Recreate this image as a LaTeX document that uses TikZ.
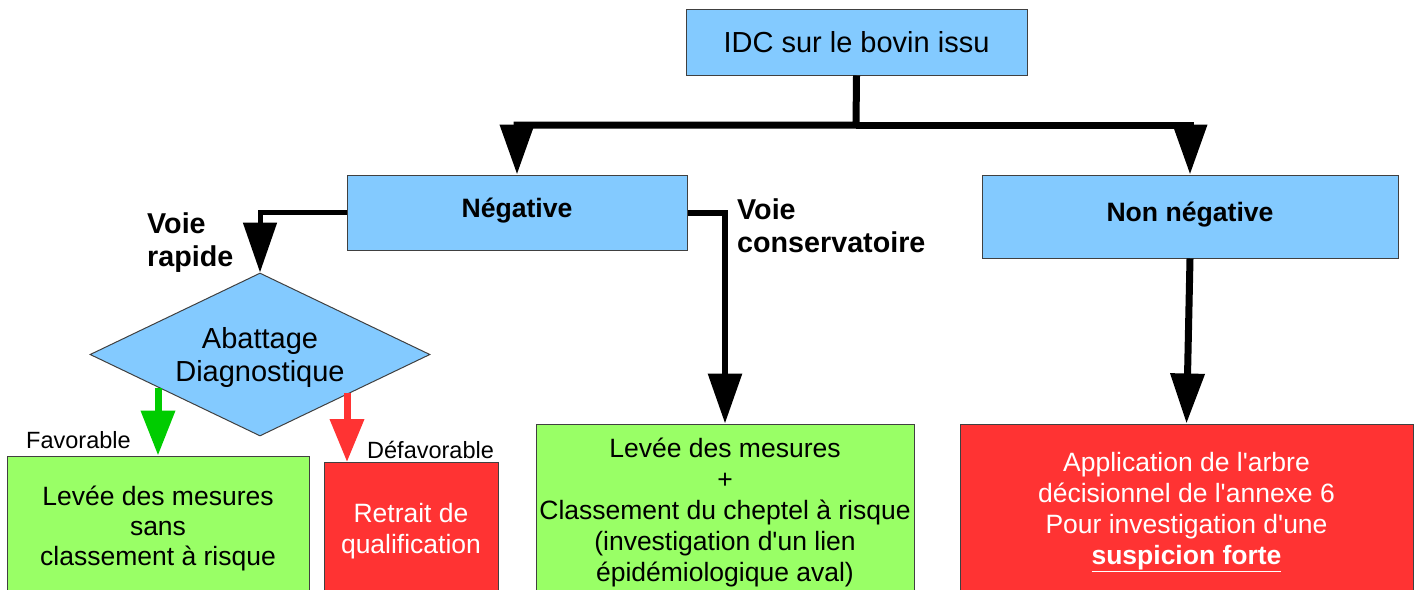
\documentclass[tikz,border=0pt]{standalone}
\usepackage{fontspec}
\setmainfont{Liberation Sans}[Ligatures=TeXOff]
\usetikzlibrary{shapes.geometric,arrows.meta}
\definecolor{sky}{HTML}{83CAFF}
\definecolor{lgreen}{HTML}{99FF66}
\definecolor{lred}{HTML}{FF3333}
\definecolor{dgreen}{HTML}{00CC00}
\begin{document}
\begin{tikzpicture}[x=1pt,y=-1pt,
  box/.style={draw=black!75,line width=1pt,inner sep=0pt,align=center},
  maintext/.style={font=\fontsize{26.5}{31}\selectfont},
  bigtext/.style={font=\fontsize{29}{33}\selectfont},
  boldbox/.style={font=\fontsize{26.6}{31}\selectfont\bfseries},
  smalllab/.style={font=\fontsize{23.5}{27}\selectfont,inner sep=0pt},
  boldlab/.style={font=\fontsize{28.7}{33}\selectfont\bfseries,inner sep=0pt,align=left},
  conn/.style={line width=#1,-{Triangle[width=33pt,length=50pt]}},
  conn/.default=7pt]
\useasboundingbox (0,0) rectangle (1415,589);
\clip (0,0) rectangle (1415,589);

% boxes
\node[box,fill=sky,bigtext,minimum width=341pt,minimum height=66pt] (idc) at (856.5,42) {IDC sur le bovin issu};
\node[box,fill=sky,boldbox,minimum width=340pt,minimum height=75pt] (neg) at (517,212.5) {Négative\rule[-9.6pt]{0pt}{0pt}};
\node[box,fill=sky,boldbox,minimum width=416pt,minimum height=83pt] (nonneg) at (1190,216.5) {Non négative\rule[-9.6pt]{0pt}{0pt}};
\node[box,diamond,fill=sky,bigtext,minimum width=340pt,minimum height=163pt,aspect=2.09] (dia) at (260,354.5) {\rule{0pt}{27pt}Abattage\\Diagnostique};
\node[box,fill=lgreen,maintext,font=\fontsize{26.5}{30}\selectfont,minimum width=302pt,minimum height=144pt] (lg) at (158,528) {Levée des mesures\\sans\\classement à risque};
\node[box,fill=lred,maintext,text=white,minimum width=174pt,minimum height=138pt] (sr) at (411,531) {Retrait de\\qualification};
\node[box,fill=lgreen,maintext,minimum width=378pt,minimum height=176pt] (mg) at (725,512) {Levée des mesures\\+\\Classement du cheptel à risque\\(investigation d'un lien\\épidémiologique aval)};
\node[box,fill=lred,maintext,text=white,minimum width=453pt,minimum height=176pt] (rr) at (1186.5,512) {Application de l'arbre\\décisionnel de l'annexe 6\\Pour investigation d'une\\\underline{\textbf{suspicion forte}}};

% labels
\node[boldlab,anchor=base west] (vr) at (147,266) {Voie\\rapide};
\node[boldlab,anchor=base west] (vc) at (737,252) {Voie\\conservatoire};
\node[smalllab,anchor=base west] (fav) at (26,448) {Favorable};
\node[smalllab,anchor=base west] (dfav) at (367,458) {Défavorable};

% connectors
\coordinate (j) at (856,125);
\draw[conn] (idc.south) -- (j) -| (neg.north);
\draw[conn] (j) -| (nonneg.north);
\draw[conn=5pt] (neg.west) -| (dia.north);
\draw[conn=6pt] (neg.east) -| (mg.north);
\draw[conn] (nonneg.south) -- (rr.north);
\coordinate (g0) at (158,388);
\draw[dgreen,line width=7pt,-{Triangle[width=33pt,length=45pt]}] (g0) -- (lg.north);
\coordinate (r0) at (347,393);
\coordinate (r1) at (347,462);
\draw[lred,line width=7pt,-{Triangle[width=33pt,length=43pt]}] (r0) -- (r1);
\end{tikzpicture}
\end{document}
